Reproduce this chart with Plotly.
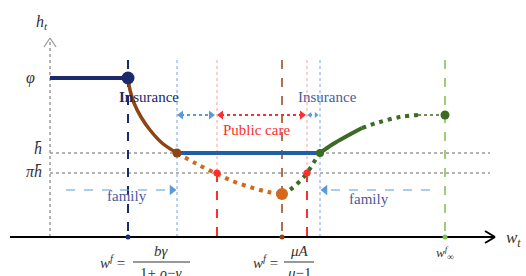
import plotly.graph_objects as go

# ---- schematic values (x: wage w_t, y: health h_t, in chart units; y axis drawn downward-reversed) ----
# key wage thresholds
w_family = 128      # w^f = b*gamma/(1+rho-gamma)
w_ins_left = 177
w_pub_left = 217
w_min = 282         # w^f = mu*A/(mu-1)
w_pub_right = 307
w_ins_right = 320
w_inf = 445         # w^f_inf
# key health levels
h_phi = 78
h_bar = 153
h_pibar = 173
h_min = 194
h_inf = 115

# curve samples
brown_x = [128, 130, 134, 141, 150, 162, 177]
brown_y = [78, 90, 103, 117, 130, 143, 153]
orange_x = [177, 195, 217, 235, 253, 268, 282]
orange_y = [153, 163, 174, 182, 188, 192, 194]
green_dot1_x = [282, 291, 300, 307, 314, 320]
green_dot1_y = [194, 189, 181, 173, 162, 153]
green_solid_x = [320, 333, 347, 362]
green_solid_y = [153, 144, 136, 128]
green_dot2_x = [362, 380, 400, 418]
green_dot2_y = [128, 122, 117, 115]
green_tail_x = [418, 445]
green_tail_y = [115, 115]

# axis frame
x_axis_start, x_axis_end = 10, 494
y_axis_x, y_axis_top, axis_y = 50, 38, 237
guide_top = 60
guide_right = 490

NAVY = "#1b2a6b"
BROWN = "#8e4516"
ORANGE = "#d2691e"
DGREEN = "#3c6b24"
LGREEN = "#7cbf4f"
BLUE = "#1f5ea8"
LBLUE = "#5b9bd5"
PBLUE = "#8fb3e3"
RED = "#ff2d2d"
PRED = "#f5a3a3"
GRAY = "#9a9a9a"
TXTBLUE = "#4a5a9e"
FONT = "Liberation Serif"

fig = go.Figure()
shapes = []

def seg(x0, y0, x1, y1, color, width, dash="solid"):
    shapes.append(dict(type="line", x0=x0, y0=y0, x1=x1, y1=y1, xref="x", yref="y",
                       line=dict(color=color, width=width, dash=dash), layer="below"))

# horizontal guides
seg(y_axis_x, h_bar, guide_right, h_bar, GRAY, 1.5, "dot")
seg(y_axis_x, h_pibar, guide_right, h_pibar, GRAY, 1.5, "dot")
# y axis (dotted) and arrowhead
seg(y_axis_x, axis_y, y_axis_x, y_axis_top, GRAY, 1.5, "dot")
seg(y_axis_x - 6, y_axis_top + 9, y_axis_x, y_axis_top, GRAY, 1.3)
seg(y_axis_x + 6, y_axis_top + 9, y_axis_x, y_axis_top, GRAY, 1.3)
# vertical guides
seg(w_family, guide_top, w_family, axis_y, NAVY, 2, "dash")
seg(w_ins_left, guide_top, w_ins_left, axis_y, PBLUE, 1.2, "dot")
seg(w_ins_right, guide_top, w_ins_right, axis_y, PBLUE, 1.2, "dot")
seg(w_pub_left, guide_top, w_pub_left, h_pibar, PRED, 1, "dot")
seg(w_pub_right, guide_top, w_pub_right, h_pibar, PRED, 1, "dot")
seg(w_pub_left, h_pibar, w_pub_left, axis_y, RED, 2, "dash")
seg(w_pub_right, h_pibar, w_pub_right, axis_y, RED, 2, "dash")
seg(w_min, guide_top, w_min, axis_y, BROWN, 1.5, "dash")
seg(w_inf, guide_top, w_inf, axis_y, LGREEN, 1.5, "dash")
# x axis and arrowhead
seg(x_axis_start, axis_y, x_axis_end, axis_y, "black", 2)
seg(x_axis_end - 9, axis_y - 6, x_axis_end + 1, axis_y, "black", 2)
seg(x_axis_end - 9, axis_y + 6, x_axis_end + 1, axis_y, "black", 2)

def line(xs, ys, color, width, dash="solid"):
    fig.add_trace(go.Scatter(x=xs, y=ys, mode="lines", line=dict(color=color, width=width, dash=dash, shape="spline"),
                             hoverinfo="skip", showlegend=False))

def pts(xs, ys, color, size, symbol="circle"):
    fig.add_trace(go.Scatter(x=xs, y=ys, mode="markers", marker=dict(color=color, size=size, symbol=symbol, line=dict(width=0)),
                             hoverinfo="skip", showlegend=False))

# main curves
line([y_axis_x, w_family], [h_phi, h_phi], NAVY, 4)
line([w_ins_left, w_ins_right], [h_bar, h_bar], BLUE, 4)
line(brown_x, brown_y, BROWN, 3.5)
line(orange_x, orange_y, ORANGE, 4, "4px,5px")
line(green_dot1_x, green_dot1_y, DGREEN, 4, "4px,5px")
line(green_solid_x, green_solid_y, DGREEN, 4)
line(green_dot2_x, green_dot2_y, DGREEN, 4, "4px,5px")
line(green_tail_x, green_tail_y, DGREEN, 1.5, "dot")

# arrows (insurance / public care / family)
arrow_y = 115
fam_y = 190
line([181, 211], [arrow_y, arrow_y], LBLUE, 2, "dot")
pts([181], [arrow_y], LBLUE, 8, "triangle-left")
pts([211], [arrow_y], LBLUE, 8, "triangle-right")
line([221, 302], [arrow_y, arrow_y], RED, 2, "dot")
pts([221], [arrow_y], RED, 8, "triangle-left")
pts([302], [arrow_y], RED, 8, "triangle-right")
line([309, 317], [arrow_y, arrow_y], LBLUE, 2, "dot")
pts([310], [arrow_y], LBLUE, 5, "triangle-left")
pts([316], [arrow_y], LBLUE, 5, "triangle-right")
line([66, 170], [fam_y, fam_y], LBLUE, 1.2, "dash")
pts([172], [fam_y], LBLUE, 9, "triangle-right")
line([430, 327], [fam_y, fam_y], LBLUE, 1.2, "dash")
pts([325], [fam_y], LBLUE, 9, "triangle-left")

# dots
pts([w_family], [h_phi], NAVY, 13)
pts([w_ins_left], [h_bar], BROWN, 9)
pts([w_min], [h_min], ORANGE, 12)
pts([w_pub_left, w_pub_right], [h_pibar, h_pibar], RED, 7)
pts([w_ins_right], [h_bar], DGREEN, 8)
pts([w_inf], [h_inf], DGREEN, 9)
pts([w_family], [axis_y], NAVY, 5)
pts([w_min], [axis_y], BROWN, 5)
pts([w_inf], [axis_y], LGREEN, 5)

# fraction bars
seg(133, 262, 190, 262, "#333333", 1)
seg(284, 262, 314, 262, "#333333", 1)

ann = []
def txt(x, y, s, color="#333333", size=13, xanchor="center"):
    ann.append(dict(x=x, y=y, xref="x", yref="y", text=s, showarrow=False, xanchor=xanchor, yanchor="middle",
                    font=dict(family=FONT, size=size, color=color)))

txt(42, 22, "<i>h<sub>t</sub></i>", size=16)
txt(30, h_phi, "<i>φ</i>", size=16)
txt(38, 148, "<i>h̄</i>", size=16)
txt(34, h_pibar - 2, "<i>πh̄</i>", size=16)
txt(149, 97, "<b>In</b>surance", NAVY, 15)
txt(327, 97, "Insurance", TXTBLUE, 15)
txt(256, 130, "Public care", RED, 15)
txt(127, 196, "family", TXTBLUE, 15)
txt(369, 199, "family", TXTBLUE, 15)
txt(112, 262, "<i>w<sup>f</sup></i> =", size=15)
txt(161, 251, "<i>bγ</i>", size=15)
txt(161, 273, "1+ <i>ρ</i>−<i>γ</i>", size=15)
txt(265, 262, "<i>w<sup>f</sup></i> =", size=15)
txt(299, 251, "<i>μA</i>", size=15)
txt(299, 273, "<i>μ</i>−1", size=15)
txt(445, 253, "<i>w<sup>f</sup><sub>∞</sub></i>", size=13)
txt(504, 239, "<i>w<sub>t</sub></i>", size=17, xanchor="left")

fig.update_layout(
    width=526, height=276, margin=dict(l=0, r=0, t=0, b=0),
    paper_bgcolor="white", plot_bgcolor="white",
    font=dict(family=FONT),
    xaxis=dict(range=[0, 526], visible=False, fixedrange=True),
    yaxis=dict(range=[276, 0], visible=False, fixedrange=True),
    shapes=shapes, annotations=ann, showlegend=False,
)
fig.write_html("out.html", config={"displayModeBar": False},
               post_script="document.body.style.margin='0';document.documentElement.style.margin='0';document.body.style.overflow='hidden';")
